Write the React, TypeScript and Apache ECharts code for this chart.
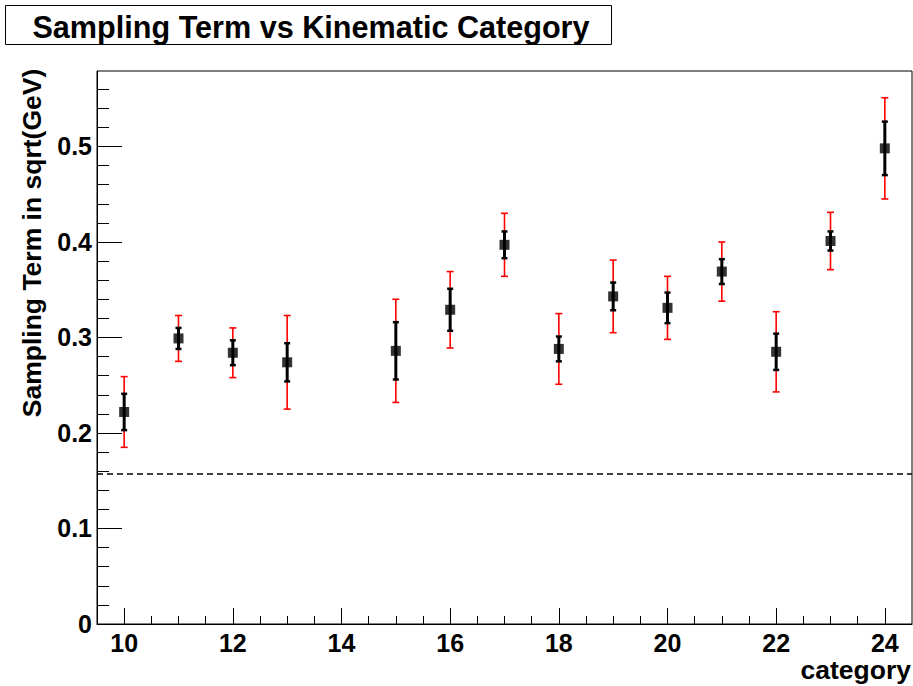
import React, { useEffect, useRef } from "react";
import * as echarts from "echarts";

const categories = [10, 11, 12, 13, 15, 16, 17, 18, 19, 20, 21, 22, 23, 24];
const values = [0.222, 0.299, 0.284, 0.274, 0.286, 0.329, 0.397, 0.288, 0.343, 0.331, 0.369, 0.285, 0.401, 0.498];
const statErr = [0.019, 0.011, 0.013, 0.020, 0.030, 0.022, 0.014, 0.013, 0.0145, 0.016, 0.013, 0.019, 0.010, 0.028];
const totalErr = [0.037, 0.024, 0.026, 0.049, 0.054, 0.040, 0.033, 0.037, 0.038, 0.033, 0.031, 0.042, 0.030, 0.053];
const referenceLine = [0.157];

const xMajorTicks = [10, 12, 14, 16, 18, 20, 22, 24];
const xMinorTicks = [10.5, 11, 11.5, 12.5, 13, 13.5, 14.5, 15, 15.5, 16.5, 17, 17.5, 18.5, 19, 19.5, 20.5, 21, 21.5, 22.5, 23, 23.5];
const yMajorTicks = [0, 0.1, 0.2, 0.3, 0.4, 0.5];
const yMinorTicks = [0.02, 0.04, 0.06, 0.08, 0.12, 0.14, 0.16, 0.18, 0.22, 0.24, 0.26, 0.28, 0.32, 0.34, 0.36, 0.38, 0.42, 0.44, 0.46, 0.48, 0.52, 0.54, 0.56];

const FONT = "'Liberation Sans', Arial, Helvetica, sans-serif";

function errRenderer(color: string, lw: number, capW: number, capLw: number) {
  return (params: any, api: any) => {
    const x = api.value(0);
    const lo = api.value(1);
    const hi = api.value(2);
    const top = api.coord([x, hi]);
    const bot = api.coord([x, lo]);
    return {
      type: "group",
      children: [
        { type: "line", shape: { x1: top[0], y1: top[1], x2: bot[0], y2: bot[1] }, style: { stroke: color, lineWidth: lw } },
        { type: "line", shape: { x1: top[0] - capW / 2, y1: top[1], x2: top[0] + capW / 2, y2: top[1] }, style: { stroke: color, lineWidth: capLw } },
        { type: "line", shape: { x1: bot[0] - capW / 2, y1: bot[1], x2: bot[0] + capW / 2, y2: bot[1] }, style: { stroke: color, lineWidth: capLw } },
      ],
    };
  };
}

export default function App() {
  const ref = useRef<HTMLDivElement>(null);
  useEffect(() => {
    if (!ref.current) return;
    const chart = echarts.init(ref.current, null, { renderer: "svg" });
    const totalData = categories.map((c, i) => [c, values[i] - totalErr[i], values[i] + totalErr[i]]);
    const statData = categories.map((c, i) => [c, values[i] - statErr[i], values[i] + statErr[i]]);
    const pointData = categories.map((c, i) => [c, values[i]]);
    const yFmt = (v: number) => String(+(+v).toFixed(1));
    chart.setOption({
      animation: false,
      backgroundColor: "#fff",
      grid: { left: 97, right: 1, top: 71, bottom: 62, show: true, borderColor: "#000", borderWidth: 1, backgroundColor: "transparent" },
      xAxis: [
        {
          type: "value", min: 9.5, max: 24.5, position: "bottom",
          axisLine: { show: true, onZero: false, lineStyle: { color: "#000", width: 1 } },
          axisTick: { show: true, inside: true, length: 16, customValues: xMajorTicks, lineStyle: { color: "#000", width: 1 } },
          axisLabel: { show: true, customValues: xMajorTicks, margin: 6, color: "#000", fontFamily: FONT, fontWeight: "bold", fontSize: 25 },
          splitLine: { show: false },
        },
        {
          type: "value", min: 9.5, max: 24.5, position: "bottom",
          axisLine: { show: false },
          axisTick: { show: true, inside: true, length: 8, customValues: xMinorTicks, lineStyle: { color: "#000", width: 1 } },
          axisLabel: { show: false },
          splitLine: { show: false },
        },
      ],
      yAxis: [
        {
          type: "value", min: 0, max: 0.579, position: "left",
          axisLine: { show: true, onZero: false, lineStyle: { color: "#000", width: 1 } },
          axisTick: { show: true, inside: true, length: 25, customValues: yMajorTicks, lineStyle: { color: "#000", width: 1 } },
          axisLabel: { show: true, customValues: yMajorTicks, formatter: yFmt, margin: 5, color: "#000", fontFamily: FONT, fontWeight: "bold", fontSize: 25 },
          splitLine: { show: false },
        },
        {
          type: "value", min: 0, max: 0.579, position: "left",
          axisLine: { show: false },
          axisTick: { show: true, inside: true, length: 12, customValues: yMinorTicks, lineStyle: { color: "#000", width: 1 } },
          axisLabel: { show: false },
          splitLine: { show: false },
        },
      ],
      series: [
        {
          type: "custom", xAxisIndex: 0, yAxisIndex: 0, z: 2,
          renderItem: errRenderer("#ff0000", 1.6, 7, 1.6),
          data: totalData, silent: true,
        },
        {
          type: "custom", xAxisIndex: 0, yAxisIndex: 0, z: 3,
          renderItem: errRenderer("#000000", 3, 6, 2.5),
          data: statData, silent: true,
        },
        {
          type: "scatter", xAxisIndex: 0, yAxisIndex: 0, z: 4,
          symbol: "rect", symbolSize: 10, itemStyle: { color: "#000" },
          data: pointData, silent: true,
          markLine: {
            silent: true, precision: 4, symbol: ["none", "none"], label: { show: false },
            lineStyle: { color: "#000", width: 1.5, type: [6, 4] },
            data: referenceLine.map((v) => ({ yAxis: v })),
          },
        },
      ],
      graphic: [
        { type: "rect", shape: { x: 5.5, y: 5.5, width: 606, height: 39 }, style: { fill: "#fff", stroke: "#000", lineWidth: 1 }, z: 10 },
        { type: "text", x: 311, y: 26.5, z: 11, style: { text: "Sampling Term vs Kinematic Category", fontFamily: FONT, fontWeight: "bold", fontSize: 30.6, fill: "#000", align: "center", verticalAlign: "middle" } },
        { type: "text", x: 32, y: 243, rotation: Math.PI / 2, z: 11, style: { text: "Sampling Term in sqrt(GeV)", fontFamily: FONT, fontWeight: "bold", fontSize: 26.5, fill: "#000", align: "center", verticalAlign: "middle" } },
        { type: "text", x: 911, y: 670, z: 11, style: { text: "category", fontFamily: FONT, fontWeight: "bold", fontSize: 26.5, fill: "#000", align: "right", verticalAlign: "middle" } },
      ],
    });
    return () => chart.dispose();
  }, []);
  return <div ref={ref} style={{ position: "fixed", left: 0, top: 0, width: 913, height: 686 }} />;
}
